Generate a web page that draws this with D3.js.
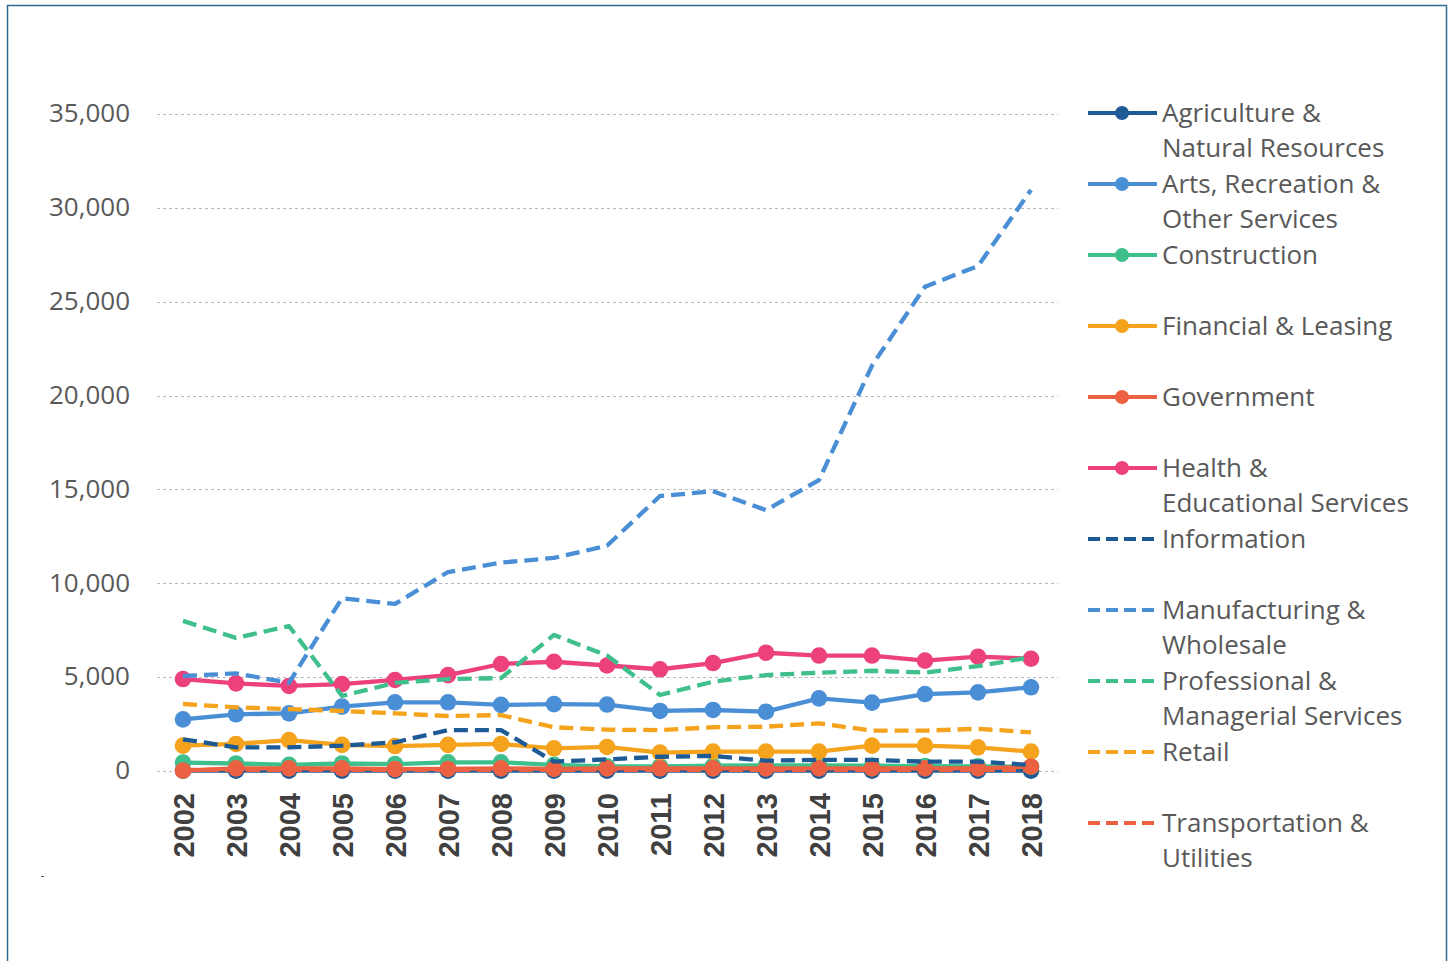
<!DOCTYPE html>
<html>
<head>
<meta charset="utf-8">
<script src="https://cdn.jsdelivr.net/npm/d3@7"></script>
<style>
  html, body { margin: 0; padding: 0; background: #ffffff; }
  svg { display: block; }
</style>
</head>
<body>
<svg id="chart" width="1453" height="961"></svg>
<script>
// ---- Data ----
const years = [2002, 2003, 2004, 2005, 2006, 2007, 2008, 2009, 2010, 2011, 2012, 2013, 2014, 2015, 2016, 2017, 2018];
const yTicks = [0, 5000, 10000, 15000, 20000, 25000, 30000, 35000];

const agriculture    = [20, 20, 20, 20, 20, 20, 20, 20, 20, 20, 20, 20, 20, 20, 20, 20, 20];
const arts           = [2750, 3020, 3070, 3430, 3660, 3660, 3520, 3560, 3540, 3200, 3250, 3160, 3870, 3640, 4100, 4190, 4460];
const construction   = [450, 400, 330, 400, 370, 460, 460, 330, 250, 250, 280, 300, 300, 280, 260, 250, 230];
const financial      = [1350, 1440, 1650, 1390, 1330, 1390, 1440, 1210, 1280, 980, 1030, 1030, 1030, 1350, 1350, 1260, 1030];
const government     = [20, 140, 140, 140, 100, 110, 140, 110, 140, 140, 140, 140, 140, 140, 140, 140, 230];
const health         = [4900, 4670, 4530, 4630, 4850, 5110, 5700, 5820, 5620, 5420, 5750, 6300, 6150, 6150, 5880, 6090, 5980];
const information    = [1690, 1260, 1260, 1350, 1530, 2180, 2180, 500, 620, 760, 800, 550, 590, 590, 500, 500, 320];
const manufacturing  = [5060, 5200, 4700, 9200, 8900, 10600, 11100, 11350, 12000, 14650, 14900, 13900, 15500, 21600, 25800, 26900, 30950];
const professional   = [8000, 7090, 7720, 4000, 4690, 4900, 4950, 7250, 6150, 4050, 4760, 5110, 5240, 5340, 5240, 5590, 6060];
const retail         = [3570, 3390, 3300, 3200, 3070, 2930, 2980, 2330, 2200, 2180, 2330, 2360, 2540, 2150, 2150, 2250, 2060];
const transportation = [60, 60, 60, 60, 60, 60, 60, 60, 60, 60, 60, 60, 60, 60, 60, 60, 60];

const seriesNames = [
  ["Agriculture &", "Natural Resources"],
  ["Arts, Recreation &", "Other Services"],
  ["Construction"],
  ["Financial & Leasing"],
  ["Government"],
  ["Health &", "Educational Services"],
  ["Information"],
  ["Manufacturing &", "Wholesale"],
  ["Professional &", "Managerial Services"],
  ["Retail"],
  ["Transportation &", "Utilities"]
];
const seriesValues = [agriculture, arts, construction, financial, government, health,
                      information, manufacturing, professional, retail, transportation];
const seriesDashed = [false, false, false, false, false, false, true, true, true, true, true];
const seriesColors = ["#1d5a96", "#4a8fd6", "#3fbf8b", "#f5a31c", "#ec6142", "#ec417c",
                      "#1d5a96", "#4a8fd6", "#3fbf8b", "#f5a31c", "#ec6142"];

// ---- Drawing ----
const svg = d3.select("#chart");

// frame
svg.append("rect")
  .attr("x", 7.5).attr("y", 5.5)
  .attr("width", 1439).attr("height", 970)
  .attr("fill", "none")
  .attr("stroke", "#2f6b8f")
  .attr("stroke-width", 1.5);

// tiny artifact mark
svg.append("line")
  .attr("x1", 41).attr("x2", 44).attr("y1", 876.5).attr("y2", 876.5)
  .attr("stroke", "#555").attr("stroke-width", 1);

const x = d3.scaleLinear().domain([2002, 2018]).range([183, 1031]);
const y = d3.scaleLinear().domain([0, 35000]).range([771, 114]);

// gridlines
svg.append("g")
  .selectAll("line")
  .data(yTicks)
  .join("line")
  .attr("x1", 157).attr("x2", 1058)
  .attr("y1", d => Math.round(y(d)) + 0.5)
  .attr("y2", d => Math.round(y(d)) + 0.5)
  .attr("stroke", "#b8b8b8")
  .attr("stroke-width", 1)
  .attr("stroke-dasharray", "3,3");

// y axis labels
const yAxis = d3.axisLeft(y).tickValues(yTicks).tickSize(0).tickPadding(0)
  .tickFormat(d3.format(","));
const yg = svg.append("g").attr("transform", "translate(130,0)").call(yAxis);
yg.select(".domain").remove();
yg.selectAll("text")
  .attr("font-family", "'Open Sans', sans-serif")
  .attr("font-size", 26)
  .attr("fill", "#595959")
  .attr("dy", "0.3em");

// x axis labels
const xAxis = d3.axisBottom(x).tickValues(years).tickSize(0).tickPadding(0)
  .tickFormat(d3.format("d"));
const xg = svg.append("g").attr("transform", "translate(0,793)").call(xAxis);
xg.select(".domain").remove();
xg.selectAll("text")
  .attr("font-family", "'Liberation Sans', Arial, sans-serif")
  .attr("font-weight", "bold")
  .attr("font-size", 29)
  .attr("fill", "#404040")
  .attr("text-anchor", "end")
  .attr("transform", "rotate(-90)")
  .attr("x", 0)
  .attr("y", 0)
  .attr("dy", "0.36em");

// lines
const line = d3.line().x((d, i) => x(years[i])).y(d => y(d));

const plot = svg.append("g");
seriesValues.forEach((vals, k) => {
  const g = plot.append("g");
  g.append("path")
    .attr("d", line(vals))
    .attr("fill", "none")
    .attr("stroke", seriesColors[k])
    .attr("stroke-width", 4.3)
    .attr("stroke-linejoin", "round")
    .attr("stroke-dasharray", seriesDashed[k] ? "14,7" : null);
  if (!seriesDashed[k]) {
    g.selectAll("circle")
      .data(vals)
      .join("circle")
      .attr("cx", (d, i) => x(years[i]))
      .attr("cy", d => y(d))
      .attr("r", 8.3)
      .attr("fill", seriesColors[k]);
  }
});

// legend
const legend = svg.append("g");
seriesNames.forEach((lines, k) => {
  const cy = 113 + k * 71;
  const g = legend.append("g");
  g.append("line")
    .attr("x1", 1088).attr("x2", 1157)
    .attr("y1", cy).attr("y2", cy)
    .attr("stroke", seriesColors[k])
    .attr("stroke-width", 4)
    .attr("stroke-dasharray", seriesDashed[k] ? "12,6" : null);
  if (!seriesDashed[k]) {
    g.append("circle").attr("cx", 1122).attr("cy", cy).attr("r", 7).attr("fill", seriesColors[k]);
  }
  lines.forEach((t, j) => {
    g.append("text")
      .attr("x", 1162)
      .attr("y", cy + j * 35 + 9)
      .attr("font-family", "'Open Sans', sans-serif")
      .attr("font-size", 26)
      .attr("fill", "#595959")
      .text(t);
  });
});
</script>
</body>
</html>
